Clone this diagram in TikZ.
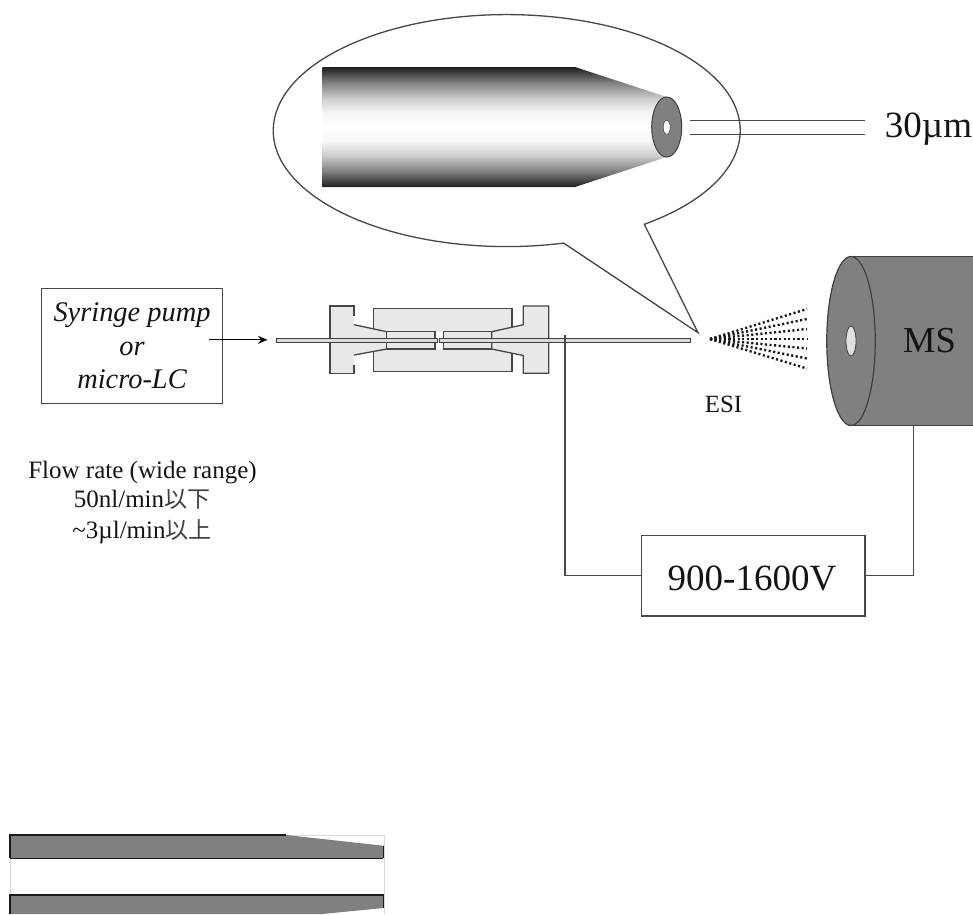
\documentclass[tikz,border=0pt]{standalone}
\usepackage{fontspec}
\usetikzlibrary{shapes.geometric,arrows.meta}
\setmainfont{Liberation Serif}
\newfontfamily\cjkfont{Noto Sans CJK JP}
\pgfdeclareverticalshading{needleprofile}{100bp}{
  color(0bp)=(black!88); color(25bp)=(black!88); color(31.5bp)=(black!50);
  color(38.5bp)=(black!18); color(44bp)=(black!4); color(50bp)=(white);
  color(56bp)=(black!4); color(61.5bp)=(black!18); color(68.5bp)=(black!50);
  color(75bp)=(black!88); color(100bp)=(black!88)}
\tikzset{
  x=1pt,y=1pt,
  lin/.style={draw=black!72,line width=1.3pt},
  lbl/.style={inner sep=0pt,outer sep=0pt,anchor=base,text=black!92},
  wbox/.style={lin,fill=white,inner sep=0pt,outer sep=0pt},
  part/.style={lin,fill=black!9},
  msgray/.style={draw=black!75,line width=1.2pt,fill=black!50},
  spray/.style={draw=black!90,line width=2.4pt,dash pattern=on 2.1pt off 2.5pt},
  needle/.style={shading=needleprofile,draw=none},
  barfill/.style={fill=black!50,draw=none},
  barline/.style={draw=black!90,line width=1.3pt},
  ghost/.style={draw=black!15,line width=.6pt},
  tube/.style={draw=black!75,line width=1.1pt,fill=black!15},
}
\begin{document}
\begin{tikzpicture}
\useasboundingbox (0,0) rectangle (973,-914);
% callout
\path[lin,fill=white] (644.3,-224.3) arc[start angle=-53.9,end angle=284.1,x radius=233.5pt,y radius=116pt]
  -- (698,-332.7) -- cycle;
% capillary tip
\shade[needle] (322.3,-67) -- (575,-67) -- (666.7,-97) -- (666.7,-157) -- (575,-187) -- (322.3,-187) -- cycle;
\node[ellipse,minimum width=30pt,minimum height=60pt,draw=black!75,line width=1pt,fill=black!50,inner sep=0pt] (ring) at (666.7,-127) {};
\node[ellipse,minimum width=7pt,minimum height=14pt,draw=black!70,line width=.6pt,fill=white,inner sep=0pt] (bore) at (666.7,-127.3) {};
\coordinate (d1a) at (690,-120.7); \coordinate (d1b) at (865,-120.7);
\coordinate (d2a) at (690,-134.7); \coordinate (d2b) at (865,-134.7);
\draw[lin] (d1a) -- (d1b);
\draw[lin] (d2a) -- (d2b);
\node[lbl,font=\fontsize{37}{37}\selectfont] (size) at (928.5,-137.5) {30µm};
% pump
\node[wbox,minimum width=180.6pt,minimum height=115pt,align=center,
      font=\fontsize{28.4}{33.5}\selectfont\itshape,text=black!92] (pump) at (132,-345.8) {Syringe pump\\or\\micro-LC};
\coordinate (arrA) at (209.3,-339.8); \coordinate (arrB) at (267.5,-339.8);
\draw[draw=black,line width=1.1pt,-{Stealth[length=9.5pt,width=8pt]}] (arrA) -- (arrB);
% union
\draw[part] (373.3,-308.3) rectangle (512,-371.7);
\fill[black!9] (330,-306) -- (354,-306) -- (354,-324.7) -- (386.7,-331.7) -- (386.7,-349) -- (354,-355) -- (354,-373.3) -- (330,-373.3) -- cycle;
\draw[lin] (354,-316) -- (354,-306) -- (330,-306) -- (330,-373.3) -- (354,-373.3) -- (354,-365);
\draw[lin] (354,-324.7) -- (386.7,-331.7);
\draw[lin] (354,-355) -- (386.7,-349);
\draw[part] (523.3,-306) -- (548.7,-306) -- (548.7,-373.3) -- (523.3,-373.3) -- (523.3,-355.5) -- (491.7,-349) -- (491.7,-331.7) -- (523.3,-324.7) -- cycle;
\fill[white] (435,-331.7) rectangle (443.3,-349);
\draw[part] (386.7,-331.7) rectangle (435,-349);
\draw[part] (443.3,-331.7) rectangle (491.7,-349);
\draw[tube] (276.7,-338.2) rectangle (437.4,-342.2);
\draw[tube] (439.6,-338.2) rectangle (690.7,-342.2);
% spray
\coordinate (apex) at (710,-339);
\foreach \n/\y in {a/309,b/319,c/329,d/339,e/348.5,f/358.5,g/368.5}{
  \coordinate (s\n) at (807,-\y);
  \draw[spray] (apex) -- (s\n);
}
\node[lbl,font=\fontsize{24.8}{24.8}\selectfont] (esi) at (723.5,-412) {ESI};
% MS
\path[msgray] (851,-256.5) -- (974.5,-256.5) -- (974.5,-425.5) -- (851,-425.5) -- cycle;
\node[ellipse,minimum width=48.5pt,minimum height=169pt,msgray,inner sep=0pt,outer sep=0pt] (front) at (851,-341) {};
\node[ellipse,minimum width=10pt,minimum height=30pt,draw=black!75,line width=.8pt,fill=black!12,inner sep=0pt] (inlet) at (851,-341) {};
\node[lbl,font=\fontsize{36.5}{36.5}\selectfont] (ms) at (929.5,-352) {MS};
% power supply
\node[wbox,minimum width=223.3pt,minimum height=80.3pt] (psu) at (753.3,-575.8) {};
\node[lbl,font=\fontsize{37}{37}\selectfont] (volt) at (752,-590) {900-1600V};
\coordinate (wireA) at (565,-335);
\coordinate (wireB) at (913.3,-425.5);
\draw[lin] (wireA) |- (psu.west);
\draw[lin] (wireB) |- (psu.east);
% flow text
\node[lbl,font=\fontsize{25}{25}\selectfont] (f1) at (142.5,-478) {Flow rate (wide range)};
\node[lbl,font=\fontsize{25}{25}\selectfont] (f2) at (142,-507.7) {50nl/min{\cjkfont\fontsize{23}{23}\selectfont\color{black!75}以下}};
\node[lbl,font=\fontsize{25}{25}\selectfont] (f3) at (142,-538) {\textasciitilde 3µl/min{\cjkfont\fontsize{23}{23}\selectfont\color{black!75}以上}};
% bottom bars
\draw[ghost] (10,-835) -- (384,-835) -- (384,-914);
\draw[ghost] (10,-835) -- (10,-914);
\fill[barfill] (10,-835) -- (286,-835) -- (383.5,-845.7) -- (383.5,-858.3) -- (10,-858.3) -- cycle;
\fill[barfill] (10,-895) -- (383.5,-895) -- (383.5,-908) -- (322,-914) -- (10,-914) -- cycle;
\draw[barline] (10,-858.3) -- (10,-835) -- (286,-835);
\draw[barline] (10,-858.3) -- (383,-858.3);
\draw[barline] (383.5,-845.7) -- (383.5,-858.3);
\draw[barline] (10,-914) -- (10,-895) -- (383.5,-895) -- (383.5,-908);
\end{tikzpicture}
\end{document}
